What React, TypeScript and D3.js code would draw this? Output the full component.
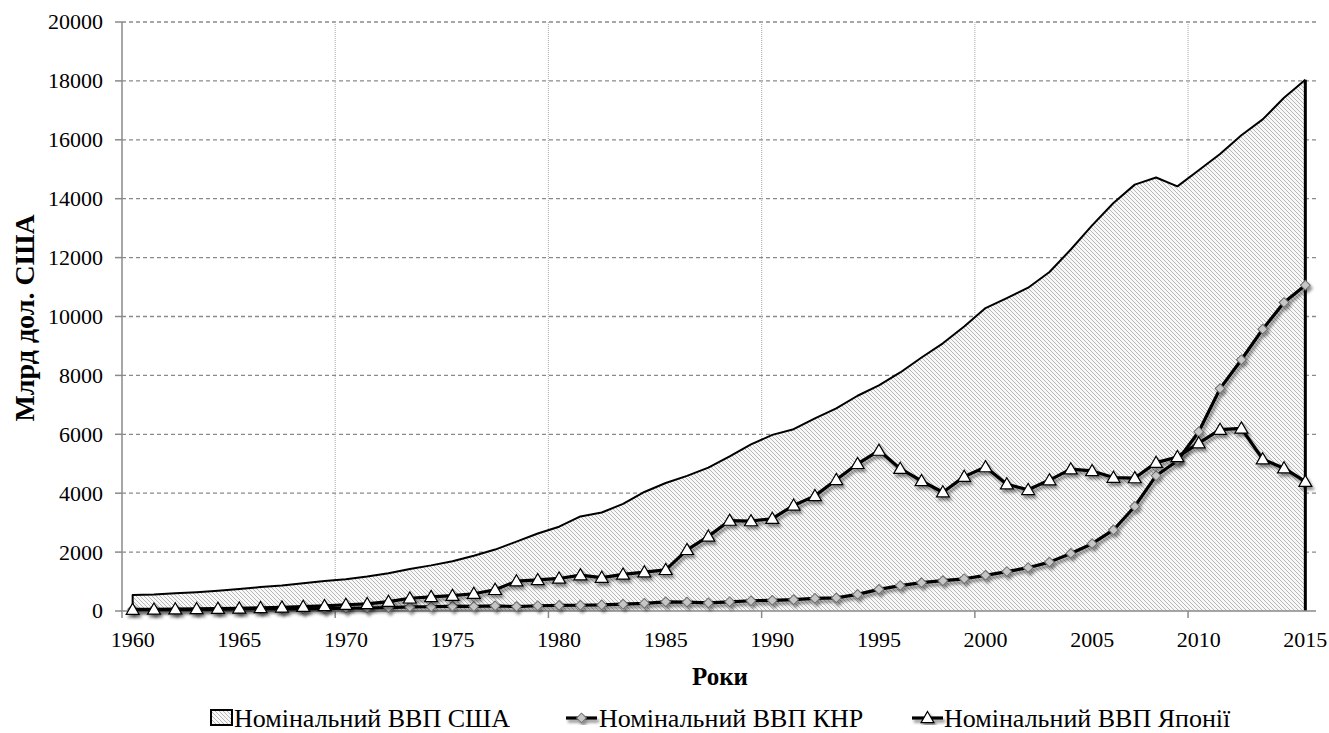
import React, { useEffect, useRef } from "react";
import * as d3 from "d3";

// categories
const years = d3.range(1960, 2016);

// nominal GDP, bn USD
const usGdp = [
  543, 563, 605, 638, 686, 744, 815, 862, 943, 1019,
  1075, 1168, 1282, 1429, 1549, 1689, 1878, 2086, 2357, 2632,
  2863, 3211, 3345, 3638, 4041, 4347, 4590, 4870, 5253, 5658,
  5980, 6174, 6539, 6879, 7309, 7664, 8100, 8609, 9089, 9661,
  10285, 10622, 10978, 11511, 12275, 13094, 13856, 14478, 14719, 14419,
  14964, 15518, 16155, 16692, 17428, 18037,
];
const chinaGdp = [
  60, 50, 47, 51, 60, 70, 77, 73, 71, 80,
  93, 100, 114, 139, 144, 163, 154, 175, 150, 178,
  191, 196, 205, 231, 260, 310, 301, 273, 312, 348,
  361, 383, 427, 445, 564, 735, 864, 962, 1029, 1094,
  1211, 1339, 1471, 1660, 1955, 2286, 2752, 3550, 4594, 5102,
  6087, 7552, 8532, 9570, 10476, 11062,
];
const japanGdp = [
  44, 54, 61, 70, 82, 91, 106, 124, 147, 172,
  213, 240, 318, 432, 480, 522, 586, 721, 1014, 1055,
  1105, 1219, 1135, 1243, 1318, 1399, 2078, 2533, 3072, 3055,
  3133, 3584, 3909, 4454, 4999, 5449, 4834, 4415, 4033, 4562,
  4888, 4304, 4115, 4446, 4815, 4755, 4530, 4515, 5038, 5231,
  5700, 6158, 6203, 5156, 4850, 4390,
];

const yTicks = [0, 2000, 4000, 6000, 8000, 10000, 12000, 14000, 16000, 18000, 20000];
const xLabelYears = [1960, 1965, 1970, 1975, 1980, 1985, 1990, 1995, 2000, 2005, 2010, 2015];
const gridYears = [1970, 1980, 1990, 2000, 2010];
const seriesNames = ["Номінальний ВВП США", "Номінальний ВВП КНР", "Номінальний ВВП Японії"];
const yTitle = "Млрд дол. США";
const xTitle = "Роки";

const W = 1329,
  H = 733;
const FONT = "'Liberation Serif', Tinos, 'Times New Roman', 'DejaVu Serif', serif";

const drawChart = (node) => {
  const svg = d3.select(node);
  svg.selectAll("*").remove();

  const x = d3.scaleBand().domain(years.map(String)).range([122, 1316]);
  const cx = (yr) => x(String(yr)) + x.bandwidth() / 2;
  const y = d3.scaleLinear().domain([0, 20000]).range([611, 22]);
  const [x0, x1] = x.range();

  const defs = svg.append("defs");
  const pat = defs
    .append("pattern")
    .attr("id", "hatch")
    .attr("patternUnits", "userSpaceOnUse")
    .attr("width", 4)
    .attr("height", 4);
  pat.append("rect").attr("width", 4).attr("height", 4).attr("fill", "#f8f8f8");
  pat
    .append("path")
    .attr("d", "M-1,-1L5,5M-1,3L1,5M3,-1L5,1")
    .attr("stroke", "#a6a6a6")
    .attr("stroke-width", 0.8);

  const filt = defs
    .append("filter")
    .attr("id", "shadow")
    .attr("x", "-10%")
    .attr("y", "-10%")
    .attr("width", "130%")
    .attr("height", "130%");
  filt
    .append("feDropShadow")
    .attr("dx", 2)
    .attr("dy", 3)
    .attr("stdDeviation", 1.6)
    .attr("flood-color", "#000")
    .attr("flood-opacity", 0.45);

  // gridlines
  svg
    .append("g")
    .selectAll("line")
    .data(yTicks.slice(1))
    .join("line")
    .attr("x1", x0)
    .attr("x2", x1)
    .attr("y1", (d) => y(d))
    .attr("y2", (d) => y(d))
    .attr("stroke", "#8a8a8a")
    .attr("stroke-width", 1.3)
    .attr("stroke-dasharray", "4,3");

  svg
    .append("g")
    .selectAll("line")
    .data(gridYears)
    .join("line")
    .attr("x1", (d) => x(String(d)))
    .attr("x2", (d) => x(String(d)))
    .attr("y1", y(20000))
    .attr("y2", y(0))
    .attr("stroke", "#b4b4b4")
    .attr("stroke-width", 1.2)
    .attr("stroke-dasharray", "1,1");

  // US area
  const area = d3
    .area()
    .x((d, i) => cx(years[i]))
    .y0(y(0))
    .y1((d) => y(d));
  svg.append("path").datum(usGdp).attr("d", area).attr("fill", "url(#hatch)");

  const outline = [
    [cx(years[0]), y(0)],
    ...usGdp.map((v, i) => [cx(years[i]), y(v)]),
    [cx(years[years.length - 1]), y(0)],
  ];
  svg
    .append("path")
    .attr("d", d3.line()(outline.slice(0, -1)))
    .attr("fill", "none")
    .attr("stroke", "#000")
    .attr("stroke-width", 2)
    .attr("stroke-linejoin", "round");
  svg
    .append("path")
    .attr("d", d3.line()(outline.slice(-2)))
    .attr("stroke", "#000")
    .attr("stroke-width", 3);

  // axes
  const axes = svg.append("g").attr("stroke", "#8a8a8a").attr("stroke-width", 1.5);
  axes.append("line").attr("x1", x0).attr("x2", x0).attr("y1", y(20000)).attr("y2", y(0));
  axes.append("line").attr("x1", x0 - 1).attr("x2", x1).attr("y1", y(0)).attr("y2", y(0));
  axes
    .selectAll(".yt")
    .data(yTicks)
    .join("line")
    .attr("x1", x0 - 7)
    .attr("x2", x0)
    .attr("y1", (d) => y(d))
    .attr("y2", (d) => y(d));
  axes
    .selectAll(".xt")
    .data([1960, ...gridYears])
    .join("line")
    .attr("x1", (d) => x(String(d)))
    .attr("x2", (d) => x(String(d)))
    .attr("y1", y(0))
    .attr("y2", y(0) + 7);

  const txt = svg.append("g").style("font-family", FONT);

  txt
    .append("g")
    .selectAll("text")
    .data(yTicks)
    .join("text")
    .attr("x", 103)
    .attr("y", (d) => y(d))
    .attr("dy", "0.34em")
    .attr("text-anchor", "end")
    .attr("font-size", 22)
    .text((d) => d);

  txt
    .append("g")
    .selectAll("text")
    .data(xLabelYears)
    .join("text")
    .attr("x", (d) => cx(d))
    .attr("y", 647)
    .attr("text-anchor", "middle")
    .attr("font-size", 22)
    .text((d) => d);

  txt
    .append("text")
    .attr("x", 720)
    .attr("y", 685)
    .attr("text-anchor", "middle")
    .attr("font-size", 25)
    .attr("font-weight", "bold")
    .text(xTitle);
  txt
    .append("text")
    .attr("transform", `translate(34, 318) rotate(-90)`)
    .attr("text-anchor", "middle")
    .attr("font-size", 28)
    .attr("font-weight", "bold")
    .text(yTitle);

  // series lines
  const line = d3
    .line()
    .x((d, i) => cx(years[i]))
    .y((d) => y(d));
  const diamond = d3.symbol(d3.symbolSquare, 48);
  const triangle = d3.symbol(d3.symbolTriangle, 72);

  const china = svg.append("g").attr("filter", "url(#shadow)");
  china
    .append("path")
    .datum(chinaGdp)
    .attr("d", line)
    .attr("fill", "none")
    .attr("stroke", "#000")
    .attr("stroke-width", 3.2)
    .attr("stroke-linejoin", "round");
  china
    .selectAll("path.m")
    .data(chinaGdp)
    .join("path")
    .attr("class", "m")
    .attr("d", diamond)
    .attr("transform", (d, i) => `translate(${cx(years[i])},${y(d)}) rotate(45)`)
    .attr("fill", "#c6c6c6")
    .attr("stroke", "#6e6e6e")
    .attr("stroke-width", 1);

  const japan = svg.append("g").attr("filter", "url(#shadow)");
  japan
    .append("path")
    .datum(japanGdp)
    .attr("d", line)
    .attr("fill", "none")
    .attr("stroke", "#000")
    .attr("stroke-width", 3.2)
    .attr("stroke-linejoin", "round");
  japan
    .selectAll("path.m")
    .data(japanGdp)
    .join("path")
    .attr("class", "m")
    .attr("d", triangle)
    .attr("transform", (d, i) => `translate(${cx(years[i])},${y(d) + 1})`)
    .attr("fill", "#fff")
    .attr("stroke", "#000")
    .attr("stroke-width", 1.2);

  // legend
  const lg = svg.append("g").attr("font-size", 26).style("font-family", FONT);
  lg.append("rect")
    .attr("x", 211)
    .attr("y", 710)
    .attr("width", 21)
    .attr("height", 15)
    .attr("fill", "url(#hatch)")
    .attr("stroke", "#000")
    .attr("stroke-width", 2);
  lg.append("text").attr("x", 234).attr("y", 727).text(seriesNames[0]);

  const l2 = lg.append("g").attr("filter", "url(#shadow)");
  l2.append("line").attr("x1", 566).attr("x2", 597).attr("y1", 718).attr("y2", 718).attr("stroke", "#000").attr("stroke-width", 3.2);
  l2.append("path")
    .attr("d", diamond)
    .attr("transform", "translate(581.5,718) rotate(45)")
    .attr("fill", "#c6c6c6")
    .attr("stroke", "#6e6e6e");
  lg.append("text").attr("x", 599).attr("y", 727).text(seriesNames[1]);

  const l3 = lg.append("g").attr("filter", "url(#shadow)");
  l3.append("line").attr("x1", 912).attr("x2", 943).attr("y1", 718).attr("y2", 718).attr("stroke", "#000").attr("stroke-width", 3.2);
  l3.append("path")
    .attr("d", triangle)
    .attr("transform", "translate(927.5,719)")
    .attr("fill", "#fff")
    .attr("stroke", "#000")
    .attr("stroke-width", 1.2);
  lg.append("text").attr("x", 944).attr("y", 727).text(seriesNames[2]);
};

export default function App() {
  const ref = useRef(null);

  useEffect(() => {
    if (ref.current) drawChart(ref.current);
  }, []);

  return (
    <svg
      ref={ref}
      width={W}
      height={H}
      style={{ position: "absolute", left: 0, top: 0, background: "#fff" }}
    />
  );
}
